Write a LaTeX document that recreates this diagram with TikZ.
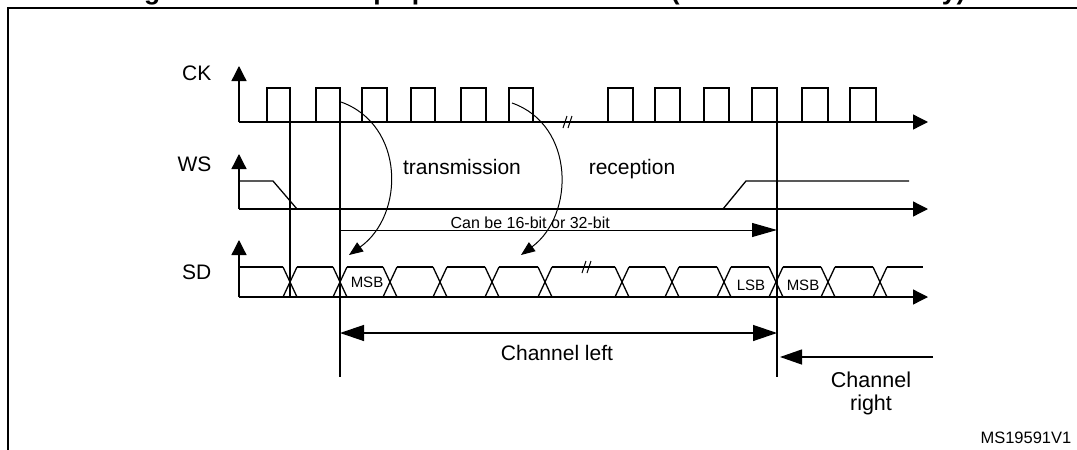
\documentclass[tikz,border=0pt]{standalone}
\usepackage{fontspec}
\setmainfont{Liberation Sans}
\usetikzlibrary{calc,arrows.meta}

\begin{document}
\begin{tikzpicture}[x=1pt,y=-1pt,line width=1.3pt,
    axis/.style={-{Triangle[length=15pt,width=15pt]}},
    arcarrow/.style={line width=1pt,-{Triangle[length=14pt,width=11pt]}},
    dimtip/.style={{Triangle[length=24pt,width=16pt]}-{Triangle[length=24pt,width=16pt]}},
    txt/.style={inner sep=0pt,font=\fontsize{21}{25}\selectfont},
    small/.style={inner sep=0pt,font=\fontsize{15}{18}\selectfont}]
    \useasboundingbox (0,0) rectangle (1077,450);
    % frame, title cut by the top edge
    \draw[line width=1.8pt] (8,470) -- (8,8) -- (1090,8);
    \node[anchor=base west,inner sep=0pt,font=\bfseries\fontsize{26.5}{30}\selectfont] (title) at (120,-1)
        {Figure 203. I2S Philips protocol waveforms (16/32-bit full accuracy)};
    % signal names
    \node[txt,anchor=east] (ck) at (212,73) {CK};
    \node[txt,anchor=east] (ws) at (212,164) {WS};
    \node[txt,anchor=east] (sd) at (212,272) {SD};
    % axes
    \foreach \y/\t in {122/66, 209/154, 297/240} {
        \draw[axis] (239,\y) -- (239,\t);
        \draw[axis] (239,\y) -- (928,\y);
    }
    % clock
    \foreach \r/\f in {267/290, 316/340, 362/387, 411/435, 461/486, 509/533,
                       608/633, 655/680, 704/729, 752/777, 802/828, 850/876}
        \draw (\r,122) -- (\r,88) -- (\f,88) -- (\f,122);
    % time marks
    \coordinate (t0) at (290,122);
    \coordinate (t1) at (340,122);
    \coordinate (t2) at (777,122);
    \draw (t0) -- ++(0,175);
    \draw (t1) -- ++(0,255);
    \draw (t2) -- ++(0,255);
    % word select
    \draw (239,181) -- (273,181) -- (297,209);
    \draw (723,209) -- (746,181) -- (909,181);
    % serial data
    \foreach \x [remember=\x as \lastx (initially 232)] in {290,340,390,440,492,545,622,672,724,776,828,880,930} {
        \draw (\lastx+7,267) -- (\x-7,267);
        \ifnum\x<900
            \draw (\x-7,267) -- (\x+7,297) (\x-7,297) -- (\x+7,267);
        \fi
    }
    % breaks
    \foreach \cx/\cy in {568/122, 587/267}
        \draw[line width=1pt] (\cx-5,\cy+6) -- (\cx-1,\cy-6) (\cx,\cy+6) -- (\cx+4,\cy-6);
    % transmission / reception
    \draw[arcarrow] (341,102) .. controls (405,125) and (405,215) .. (349,255);
    \draw[arcarrow] (512,103) .. controls (575,125) and (575,215) .. (521,255);
    \node[txt,anchor=base] (tx) at (462,174) {transmission};
    \node[txt,anchor=base] (rx) at (632,174) {reception};
    % word length
    \coordinate (w0) at (340,230);
    \coordinate (w1) at (777,230);
    \draw[line width=1pt,-{Triangle[length=25pt,width=14pt]}] (w0) -- (w1);
    \node[anchor=base west,inner sep=0pt,font=\fontsize{16}{19}\selectfont] (len) at (450,228.5) {Can be 16-bit or 32-bit};
    \node[small] (msb) at (367,282) {MSB};
    \node[small] (lsb) at (751,285) {LSB};
    \node[small] (msbr) at (803,285) {MSB};
    % channels
    \coordinate (cl0) at (340,333);
    \coordinate (cl1) at (777,333);
    \draw[dimtip] (cl0) -- (cl1);
    \node[txt,anchor=base] (chl) at (557,360.5) {Channel left};
    \coordinate (cr0) at (933,357);
    \coordinate (cr1) at (780,357);
    \draw[-{Triangle[length=22pt,width=15pt]}] (cr0) -- (cr1);
    \node[inner sep=0pt,anchor=north,align=center,font=\fontsize{21.5}{22.5}\selectfont] (chr) at (871,371.5) {Channel\\right};
    \node[anchor=base east,inner sep=0pt,font=\fontsize{16.5}{19}\selectfont] (ref) at (1072,443) {MS19591V1};
\end{tikzpicture}
\end{document}
